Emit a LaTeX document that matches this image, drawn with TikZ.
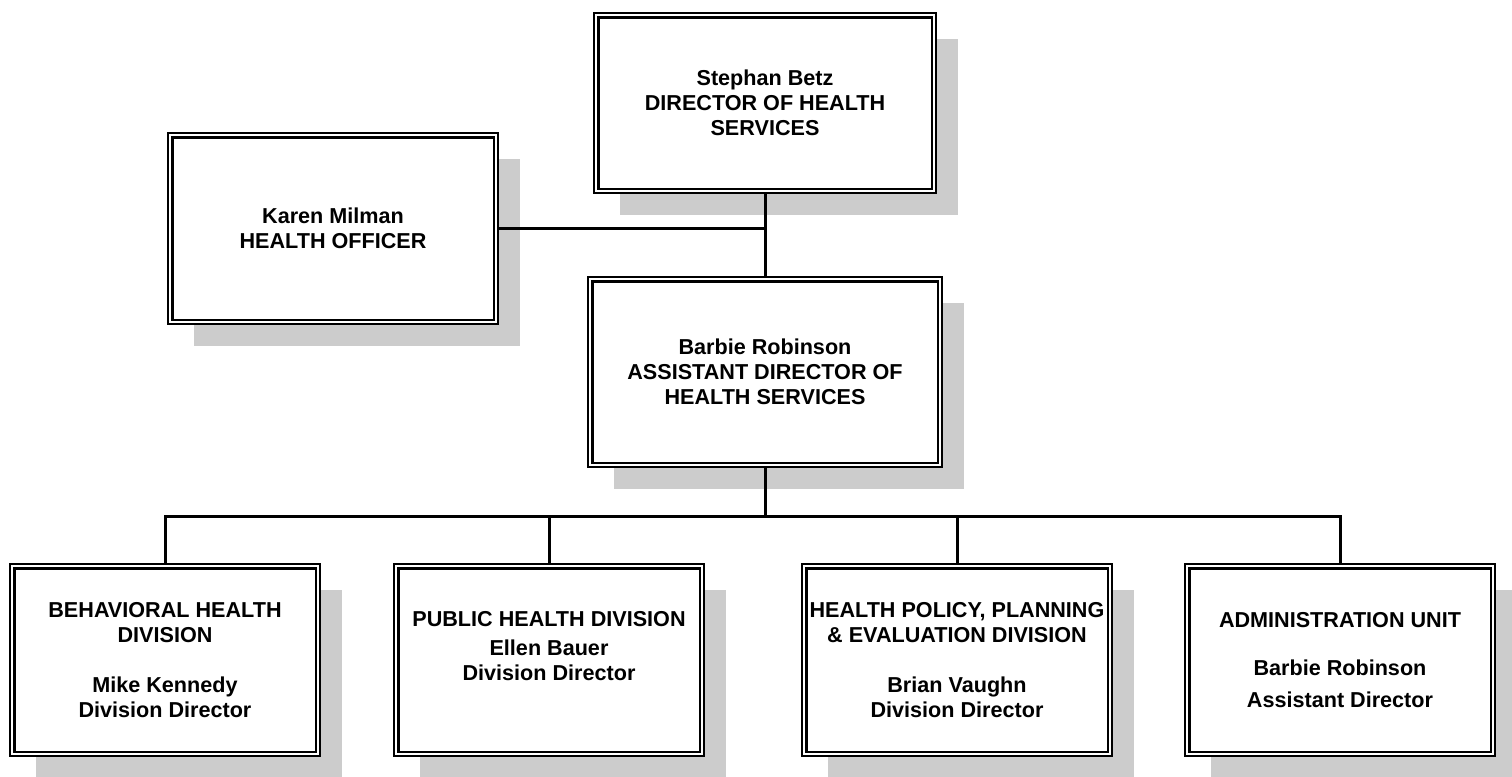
\documentclass[tikz,border=0pt]{standalone}
\usepackage{fontspec}
\setmainfont{Liberation Sans}
\usetikzlibrary{positioning}
\usetikzlibrary{shadows}

\begin{document}
\begin{tikzpicture}[
        x=0.5pt, y=-0.5pt,
        font=\bfseries\fontsize{10.8}{12.5}\selectfont,
        box/.style={draw, fill=white, rectangle, align=center, line width=1.1pt, double, double distance=1.1pt, inner xsep=1pt, outer sep=1.65pt, general shadow={fill=black!20, shadow xshift=12pt, shadow yshift=-12pt}},
        division/.style={box, minimum width=152.8pt, minimum height=93.8pt},
        link/.style={line width=1.5pt},
    ]
        \useasboundingbox (0,0) rectangle (1512,777);

        \node[box, minimum width=168.8pt, minimum height=87.8pt] (director) at (765,103) {Stephan Betz\\DIRECTOR OF HEALTH\\SERVICES};
        \node[box, minimum width=162.8pt, minimum height=93.3pt] (officer) at (333,228.5) {Karen Milman\\HEALTH OFFICER};
        \node[box, minimum width=174.8pt, minimum height=92.8pt] (assistant) at (765,372) {Barbie Robinson\\ASSISTANT DIRECTOR OF\\HEALTH SERVICES};

        \node[division] (behavioral) at (165,660) {BEHAVIORAL HEALTH\\DIVISION\\[12.5pt]Mike Kennedy\\Division Director};
        \node[division] (public) at (549,660) {PUBLIC HEALTH DIVISION\\[2pt]Ellen Bauer\\Division Director\\[1.5pt]\mbox{}};
        \node[division] (policy) at (957,660) {HEALTH POLICY, PLANNING\\\& EVALUATION DIVISION\\[12.5pt]Brian Vaughn\\Division Director};
        \node[division] (admin) at (1340,660) {ADMINISTRATION UNIT\\[11.5pt]Barbie Robinson\\[3.5pt]Assistant Director};

        \coordinate (bus) at (765,516);

        \draw[link] (director.south) -- (assistant.north);
        \draw[link] (officer.east) -- (officer.east -| director.south);
        \draw[link] (assistant.south) -- (bus);
        \draw[link] (behavioral.north) |- (bus) -| (admin.north);
        \foreach \d in {public, policy}
            \draw[link] (\d.north) -- (\d.north |- bus);
\end{tikzpicture}
\end{document}
